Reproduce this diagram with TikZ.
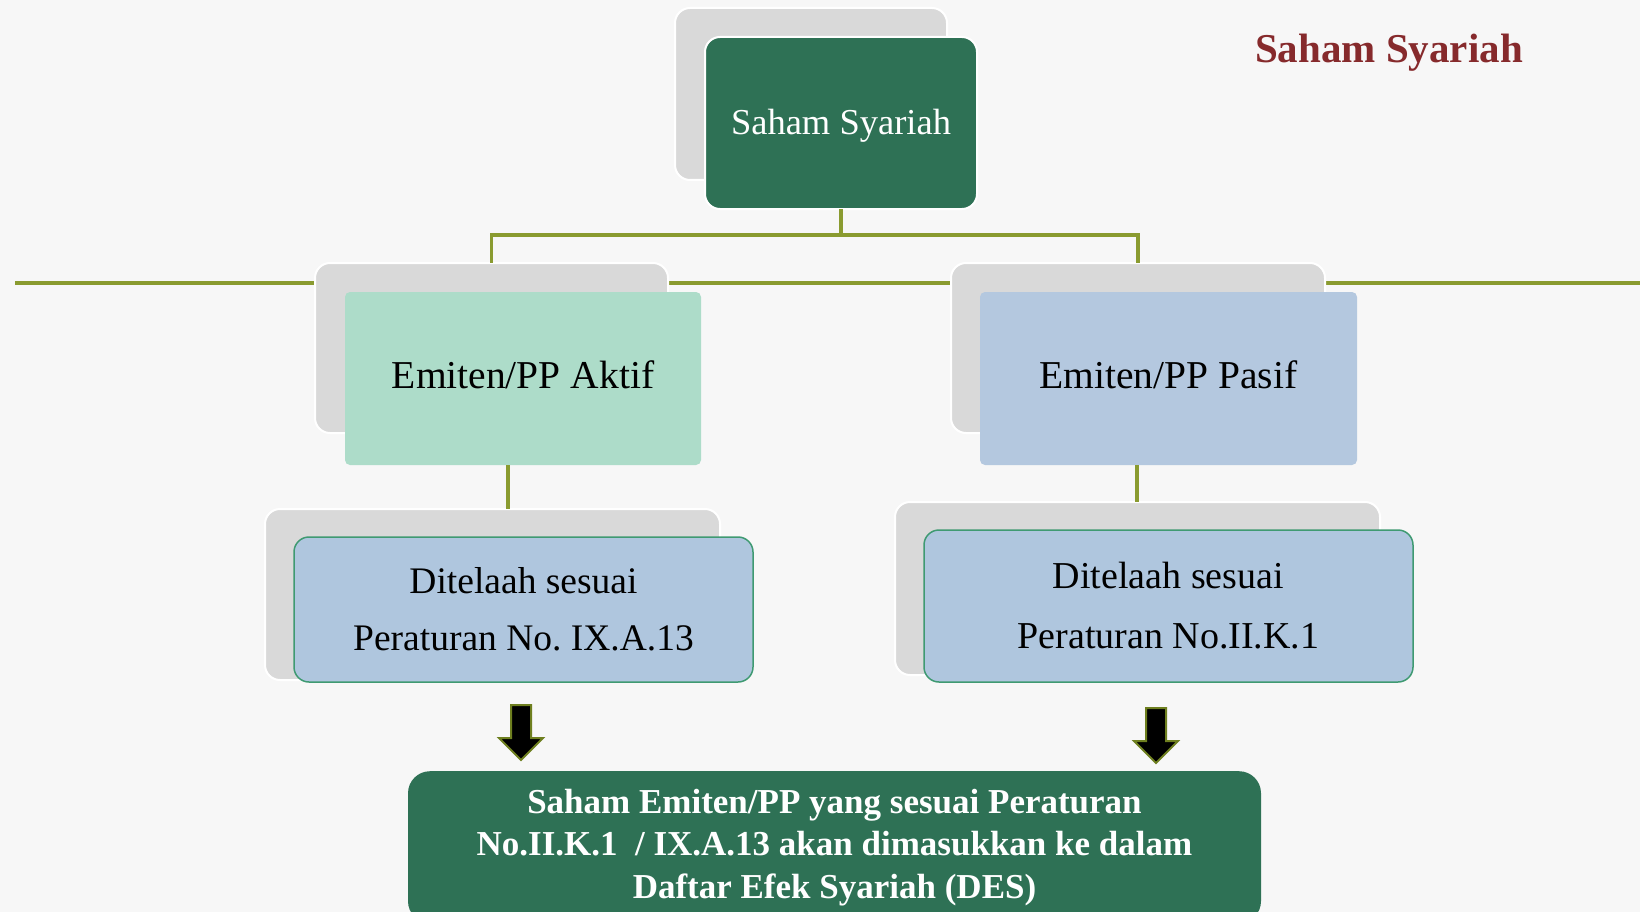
\documentclass[tikz,border=0pt]{standalone}
\usepackage{fontspec}
\setmainfont{Liberation Serif}
\frenchspacing
\definecolor{bg}{HTML}{F7F7F7}
\definecolor{dgreen}{HTML}{2E7155}
\definecolor{aqua}{HTML}{ADDCC9}
\definecolor{blueA}{HTML}{B4C8DF}
\definecolor{blueB}{HTML}{AFC6DE}
\definecolor{bgreen}{HTML}{3F9A72}
\definecolor{shade}{HTML}{D9D9D9}
\definecolor{olive}{HTML}{8A9B30}
\definecolor{aolive}{HTML}{6E7F1F}
\definecolor{titlered}{HTML}{862A2C}
\tikzset{
  box/.style={anchor=north west, inner sep=0pt, outer sep=0pt, align=center},
  shadowbox/.style={box, fill=shade, draw=white, line width=2pt, rounded corners=15pt},
  conn/.style={draw=olive, line width=3.2pt},
  darr/.pic={\draw[fill=black, draw=aolive, line width=2pt, line join=miter]
     (-10,0) -- (10,0) -- (10,33) -- (22,33) -- (0,55) -- (-22,33) -- (-10,33) -- cycle;},
}
\begin{document}
\begin{tikzpicture}[x=1pt,y=-1pt]
\useasboundingbox (0,0) rectangle (1640,912);
\fill[bg] (0,0) rectangle (1640,912);

% long horizontal rule
\coordinate (hl1) at (15,283);
\coordinate (hl2) at (1640,283);
\draw[conn] (hl1) -- (hl2);

% title
\node[anchor=base, text=titlered, font=\bfseries\fontsize{41pt}{46pt}\selectfont] (title) at (1389,63) {Saham Syariah};

% top box
\node[shadowbox, minimum width=272pt, minimum height=172pt] (topS) at (675,8) {};
\node[box, fill=dgreen, draw=white, line width=2pt, rounded corners=15pt, minimum width=272pt, minimum height=172pt,
      text height=26pt, text depth=2pt,
      text=white, font=\fontsize{36.5pt}{40pt}\selectfont] (topG) at (705,37) {Saham Syariah};

% middle boxes
\node[shadowbox, minimum width=353pt, minimum height=170pt] (grayL) at (315,263) {};
\node[shadowbox, minimum width=374pt, minimum height=170pt] (grayR) at (951,263) {};
\node[box, fill=aqua, rounded corners=5pt, minimum width=356pt, minimum height=173pt,
      text height=28pt, text depth=9pt,
      font=\fontsize{39.5pt}{44pt}\selectfont] (aktif) at (345,292) {Emiten/PP Aktif};
\node[box, fill=blueA, rounded corners=5pt, minimum width=377pt, minimum height=173pt,
      text height=28pt, text depth=9pt,
      font=\fontsize{39.5pt}{44pt}\selectfont] (pasif) at (980,292) {Emiten/PP Pasif};

% branch connectors
\coordinate (brY) at (0,235);
\draw[conn] (topG.south) -- (topG.south |- brY) -| (grayL.north);
\draw[conn] (topG.south |- brY) -| (grayR.north);

% lower boxes
\node[shadowbox, minimum width=455pt, minimum height=171pt] (grayBL) at (265,509) {};
\node[shadowbox, minimum width=485pt, minimum height=173pt] (grayBR) at (895,502) {};
\node[box, fill=blueB, draw=bgreen, line width=1.5pt, rounded corners=15pt, minimum width=459pt, minimum height=145pt,
      font=\fontsize{37.5pt}{57pt}\selectfont] (telaahL) at (294,537) {Ditelaah sesuai\\Peraturan No. IX.A.13};
\node[box, fill=blueB, draw=bgreen, line width=1.5pt, rounded corners=15pt, minimum width=489pt, minimum height=152pt,
      font=\fontsize{38pt}{60pt}\selectfont] (telaahR) at (924,530) {Ditelaah sesuai\\Peraturan No.II.K.1};

% vertical connectors to lower boxes
\coordinate (lcx) at (508,0);
\coordinate (rcx) at (1137,0);
\draw[conn] (aktif.south -| lcx) -- (grayBL.north -| lcx);
\draw[conn] (pasif.south -| rcx) -- (grayBR.north -| rcx);

% block arrows
\pic at (521,705) {darr};
\pic at (1156,708) {darr};

% bottom box
\node[anchor=north, inner sep=0pt, fill=dgreen, rounded corners=22pt, minimum width=853pt, minimum height=152pt,
      text=white, align=center, font=\bfseries\fontsize{35pt}{42.5pt}\selectfont] (des) at (834.5,771)
  {Saham Emiten/PP yang sesuai Peraturan\\No.II.K.1 \ / IX.A.13 akan dimasukkan ke dalam\\Daftar Efek Syariah (DES)};
\end{tikzpicture}
\end{document}
